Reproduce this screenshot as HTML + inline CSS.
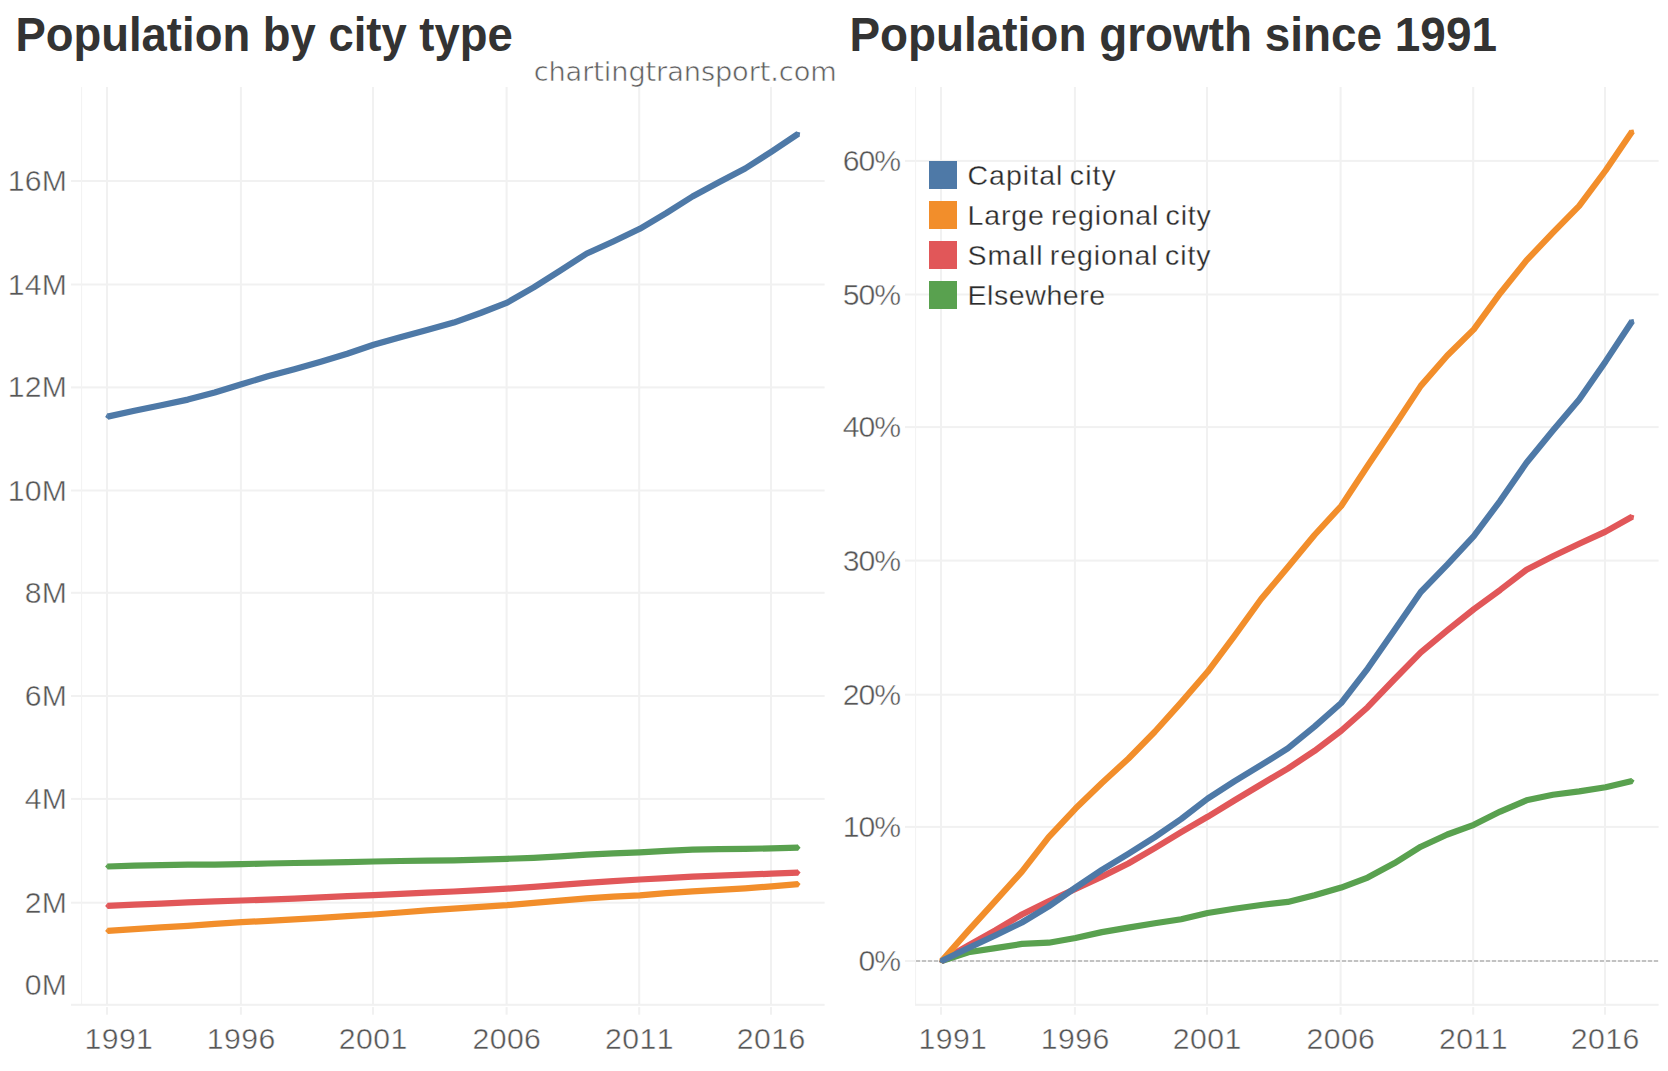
<!DOCTYPE html>
<html lang="en"><head><meta charset="utf-8"><title>Population by city type</title>
<style>
html,body{margin:0;padding:0;background:#fff;}
body{width:1668px;height:1071px;overflow:hidden;}
svg{display:block;}
text{font-family:"Liberation Sans",sans-serif;font-kerning:none;}
.t{font-weight:bold;font-size:47.8px;fill:#333333;}
.ax{font-size:30.2px;fill:#565656;stroke:#fff;stroke-width:0.45px;}
.yr{letter-spacing:0.45px;}
.ym{letter-spacing:0.3px;}
.pc{letter-spacing:-1.1px;}
.lg{font-size:28.5px;fill:#2b2b2b;stroke:#fff;stroke-width:0.3px;word-spacing:-2.5px;}
.src{font-family:"DejaVu Sans","Liberation Sans",sans-serif;font-size:27.2px;fill:#5e5e5e;letter-spacing:-0.1px;stroke:#fff;stroke-width:0.55px;}
</style></head><body>
<svg width="1668" height="1071" viewBox="0 0 1668 1071">
<rect width="1668" height="1071" fill="#ffffff"/>
<g>
<rect x="106.0" y="87" width="2" height="917.8" fill="#f1f1f1"/>
<rect x="106.0" y="1007.1" width="2" height="7.6" fill="#f1f1f1"/>
<rect x="239.9" y="87" width="2" height="917.8" fill="#f1f1f1"/>
<rect x="239.9" y="1007.1" width="2" height="7.6" fill="#f1f1f1"/>
<rect x="372.0" y="87" width="2" height="917.8" fill="#f1f1f1"/>
<rect x="372.0" y="1007.1" width="2" height="7.6" fill="#f1f1f1"/>
<rect x="505.6" y="87" width="2" height="917.8" fill="#f1f1f1"/>
<rect x="505.6" y="1007.1" width="2" height="7.6" fill="#f1f1f1"/>
<rect x="638.2" y="87" width="2" height="917.8" fill="#f1f1f1"/>
<rect x="638.2" y="1007.1" width="2" height="7.6" fill="#f1f1f1"/>
<rect x="770.0" y="87" width="2" height="917.8" fill="#f1f1f1"/>
<rect x="770.0" y="1007.1" width="2" height="7.6" fill="#f1f1f1"/>
<rect x="71.0" y="180.0" width="753.6" height="2" fill="#f1f1f1"/>
<rect x="71.0" y="283.5" width="753.6" height="2" fill="#f1f1f1"/>
<rect x="71.0" y="386.4" width="753.6" height="2" fill="#f1f1f1"/>
<rect x="71.0" y="489.5" width="753.6" height="2" fill="#f1f1f1"/>
<rect x="71.0" y="591.8" width="753.6" height="2" fill="#f1f1f1"/>
<rect x="71.0" y="695.0" width="753.6" height="2" fill="#f1f1f1"/>
<rect x="71.0" y="797.9" width="753.6" height="2" fill="#f1f1f1"/>
<rect x="71.0" y="901.7" width="753.6" height="2" fill="#f1f1f1"/>
<rect x="81.0" y="87" width="1.1" height="917.8" fill="#f3f3f3"/>
<rect x="71.0" y="1003.8" width="753.6" height="2" fill="#f1f1f1"/>
</g>
<g>
<rect x="940.0" y="87" width="2" height="917.8" fill="#f1f1f1"/>
<rect x="940.0" y="1007.1" width="2" height="7.6" fill="#f1f1f1"/>
<rect x="1073.9" y="87" width="2" height="917.8" fill="#f1f1f1"/>
<rect x="1073.9" y="1007.1" width="2" height="7.6" fill="#f1f1f1"/>
<rect x="1206.0" y="87" width="2" height="917.8" fill="#f1f1f1"/>
<rect x="1206.0" y="1007.1" width="2" height="7.6" fill="#f1f1f1"/>
<rect x="1339.6" y="87" width="2" height="917.8" fill="#f1f1f1"/>
<rect x="1339.6" y="1007.1" width="2" height="7.6" fill="#f1f1f1"/>
<rect x="1472.2" y="87" width="2" height="917.8" fill="#f1f1f1"/>
<rect x="1472.2" y="1007.1" width="2" height="7.6" fill="#f1f1f1"/>
<rect x="1604.0" y="87" width="2" height="917.8" fill="#f1f1f1"/>
<rect x="1604.0" y="1007.1" width="2" height="7.6" fill="#f1f1f1"/>
<rect x="905.0" y="159.9" width="753.6" height="2" fill="#f1f1f1"/>
<rect x="905.0" y="293.5" width="753.6" height="2" fill="#f1f1f1"/>
<rect x="905.0" y="426.1" width="753.6" height="2" fill="#f1f1f1"/>
<rect x="905.0" y="559.6" width="753.6" height="2" fill="#f1f1f1"/>
<rect x="905.0" y="693.7" width="753.6" height="2" fill="#f1f1f1"/>
<rect x="905.0" y="825.9" width="753.6" height="2" fill="#f1f1f1"/>
<rect x="905.0" y="960.0" width="753.6" height="2" fill="#f1f1f1"/>
<rect x="915.0" y="87" width="1.1" height="917.8" fill="#f3f3f3"/>
<rect x="915.0" y="1003.8" width="743.6" height="2" fill="#f1f1f1"/>
</g>
<line x1="916.0" y1="961.0" x2="1658.6" y2="961.0" stroke="#c2c2c2" stroke-width="2" stroke-dasharray="4,2"/>
<polygon points="107.79,863.40 105.10,866.60 108.00,869.60" fill="#59a14f"/><polygon points="797.88,850.82 800.60,847.65 797.72,844.62" fill="#59a14f"/><polyline points="107.6,866.5 134.4,865.6 161.2,865.2 187.9,864.7 214.7,864.6 241.5,864.1 267.9,863.5 294.3,863.0 320.8,862.6 347.2,862.1 373.6,861.5 400.3,861.0 427.0,860.7 453.8,860.3 480.5,859.6 507.2,858.8 533.7,857.8 560.2,856.3 586.8,854.6 613.3,853.3 639.8,852.3 666.2,850.9 692.5,849.7 718.9,849.2 745.2,848.8 771.6,848.4 798.1,847.7" fill="none" stroke="#59a14f" stroke-width="6.2" stroke-linejoin="round" stroke-linecap="butt"/>
<polygon points="107.77,902.79 105.10,906.00 108.03,908.98" fill="#e15759"/><polygon points="797.93,875.73 800.60,872.51 797.67,869.53" fill="#e15759"/><polyline points="107.6,905.9 134.4,904.7 161.2,903.6 187.9,902.4 214.7,901.4 241.5,900.5 267.9,899.6 294.3,898.6 320.8,897.4 347.2,896.2 373.6,895.1 400.3,893.9 427.0,892.7 453.8,891.5 480.5,890.2 507.2,888.6 533.7,886.9 560.2,884.8 586.8,882.8 613.3,881.1 639.8,879.5 666.2,878.1 692.5,876.6 718.9,875.6 745.2,874.6 771.6,873.7 798.1,872.6" fill="none" stroke="#e15759" stroke-width="6.2" stroke-linejoin="round" stroke-linecap="butt"/>
<polygon points="107.70,927.68 105.11,930.95 108.10,933.87" fill="#f28e2b"/><polygon points="798.06,887.26 800.59,883.94 797.55,881.08" fill="#f28e2b"/><polyline points="107.6,930.8 134.4,929.1 161.2,927.4 187.9,925.8 214.7,923.8 241.5,922.2 267.9,920.8 294.3,919.4 320.8,917.9 347.2,916.2 373.6,914.5 400.3,912.5 427.0,910.4 453.8,908.6 480.5,906.8 507.2,905.2 533.7,902.9 560.2,900.7 586.8,898.4 613.3,896.7 639.8,895.3 666.2,893.2 692.5,891.4 718.9,889.8 745.2,888.3 771.6,886.3 798.1,884.1" fill="none" stroke="#f28e2b" stroke-width="6.2" stroke-linejoin="round" stroke-linecap="butt"/>
<polygon points="107.24,413.49 105.16,417.11 108.54,419.55" fill="#4e79a7"/><polygon points="799.58,136.63 800.18,132.49 796.12,131.48" fill="#4e79a7"/><polyline points="107.6,416.6 134.4,410.8 161.2,405.3 187.9,399.6 214.7,392.5 241.5,384.2 267.9,376.3 294.3,369.3 320.8,361.8 347.2,353.8 373.6,344.8 400.3,337.2 427.0,330.1 453.8,322.6 480.5,313.0 507.2,302.6 533.7,287.4 560.2,270.6 586.8,253.5 613.3,241.5 639.8,228.8 666.2,213.2 692.5,196.5 718.9,182.2 745.2,168.5 771.6,151.6 798.1,133.9" fill="none" stroke="#4e79a7" stroke-width="6.2" stroke-linejoin="round" stroke-linecap="butt"/>
<polygon points="940.93,957.96 939.22,961.77 942.84,963.86" fill="#59a14f"/><polygon points="1632.51,784.09 1634.53,780.43 1631.10,778.05" fill="#59a14f"/><polyline points="941.6,961.0 968.4,952.3 995.2,948.1 1021.9,943.9 1048.7,942.7 1075.5,938.0 1101.9,932.1 1128.3,927.6 1154.8,923.2 1181.2,919.2 1207.6,913.0 1234.3,908.7 1261.0,905.0 1287.8,901.9 1314.5,895.2 1341.2,887.6 1367.7,877.6 1394.2,863.3 1420.8,846.7 1447.3,834.5 1473.8,824.8 1500.2,811.6 1526.5,800.3 1552.9,794.8 1579.2,791.4 1605.6,787.2 1632.1,781.0" fill="none" stroke="#59a14f" stroke-width="6.2" stroke-linejoin="round" stroke-linecap="butt"/>
<polygon points="940.31,958.17 939.44,962.25 943.41,963.53" fill="#e15759"/><polygon points="1633.35,519.65 1634.28,515.58 1630.33,514.24" fill="#e15759"/><polyline points="941.6,961.0 968.4,945.5 995.2,930.4 1021.9,914.5 1048.7,901.3 1075.5,888.9 1101.9,876.6 1128.3,863.5 1154.8,848.1 1181.2,832.1 1207.6,816.8 1234.3,800.5 1261.0,784.5 1287.8,768.6 1314.5,750.9 1341.2,730.8 1367.7,707.2 1394.2,679.5 1420.8,652.3 1447.3,630.3 1473.8,609.2 1500.2,589.9 1526.5,569.7 1552.9,556.3 1579.2,543.7 1605.6,531.6 1632.1,516.8" fill="none" stroke="#e15759" stroke-width="6.2" stroke-linejoin="round" stroke-linecap="butt"/>
<polygon points="939.47,958.73 939.95,962.88 944.12,962.82" fill="#f28e2b"/><polygon points="1634.49,133.59 1633.51,129.53 1629.37,130.10" fill="#f28e2b"/><polyline points="941.6,961.0 968.4,930.6 995.2,901.2 1021.9,871.6 1048.7,837.1 1075.5,808.6 1101.9,783.0 1128.3,758.7 1154.8,731.8 1181.2,702.4 1207.6,671.8 1234.3,636.1 1261.0,599.2 1287.8,567.2 1314.5,535.0 1341.2,506.0 1367.7,465.8 1394.2,426.3 1420.8,385.9 1447.3,355.5 1473.8,329.4 1500.2,293.2 1526.5,260.4 1552.9,232.7 1579.2,205.8 1605.6,170.5 1632.1,131.6" fill="none" stroke="#f28e2b" stroke-width="6.2" stroke-linejoin="round" stroke-linecap="butt"/>
<polygon points="940.52,958.08 939.35,962.09 943.22,963.66" fill="#4e79a7"/><polygon points="1634.52,323.16 1633.48,319.11 1629.35,319.74" fill="#4e79a7"/><polyline points="941.6,961.0 968.4,948.0 995.2,935.5 1021.9,922.5 1048.7,906.4 1075.5,887.6 1101.9,869.9 1128.3,853.9 1154.8,837.1 1181.2,819.0 1207.6,798.6 1234.3,781.4 1261.0,765.2 1287.8,748.4 1314.5,726.6 1341.2,703.0 1367.7,668.6 1394.2,630.6 1420.8,592.0 1447.3,564.7 1473.8,536.1 1500.2,500.8 1526.5,462.8 1552.9,430.5 1579.2,399.5 1605.6,361.4 1632.1,321.2" fill="none" stroke="#4e79a7" stroke-width="6.2" stroke-linejoin="round" stroke-linecap="butt"/>
<text class="t" transform="translate(15.4,50.9) scale(0.951,1)" id="t1">Population by city type</text>
<text class="t" transform="translate(849.4,50.9) scale(0.960,1)" id="t2">Population growth since 1991</text>
<text class="src" x="836.6" y="80.5" text-anchor="end">chartingtransport.com</text>
<text class="ax ym" x="67.3" y="191.0" text-anchor="end">16M</text>
<text class="ax ym" x="67.3" y="294.5" text-anchor="end">14M</text>
<text class="ax ym" x="67.3" y="397.4" text-anchor="end">12M</text>
<text class="ax ym" x="67.3" y="500.5" text-anchor="end">10M</text>
<text class="ax ym" x="67.3" y="602.8" text-anchor="end">8M</text>
<text class="ax ym" x="67.3" y="706.0" text-anchor="end">6M</text>
<text class="ax ym" x="67.3" y="808.9" text-anchor="end">4M</text>
<text class="ax ym" x="67.3" y="912.7" text-anchor="end">2M</text>
<text class="ax ym" x="67.3" y="995.0" text-anchor="end">0M</text>
<text class="ax pc" x="899.9" y="170.9" text-anchor="end">60%</text>
<text class="ax pc" x="899.9" y="304.5" text-anchor="end">50%</text>
<text class="ax pc" x="899.9" y="437.1" text-anchor="end">40%</text>
<text class="ax pc" x="899.9" y="570.6" text-anchor="end">30%</text>
<text class="ax pc" x="899.9" y="704.7" text-anchor="end">20%</text>
<text class="ax pc" x="899.9" y="836.9" text-anchor="end">10%</text>
<text class="ax pc" x="899.9" y="971.0" text-anchor="end">0%</text>
<text class="ax yr" x="118.9" y="1049.2" text-anchor="middle">1991</text>
<text class="ax yr" x="241.2" y="1049.2" text-anchor="middle">1996</text>
<text class="ax yr" x="373.3" y="1049.2" text-anchor="middle">2001</text>
<text class="ax yr" x="506.9" y="1049.2" text-anchor="middle">2006</text>
<text class="ax yr" x="639.5" y="1049.2" text-anchor="middle">2011</text>
<text class="ax yr" x="771.3" y="1049.2" text-anchor="middle">2016</text>
<text class="ax yr" x="952.9" y="1049.2" text-anchor="middle">1991</text>
<text class="ax yr" x="1075.2" y="1049.2" text-anchor="middle">1996</text>
<text class="ax yr" x="1207.3" y="1049.2" text-anchor="middle">2001</text>
<text class="ax yr" x="1340.9" y="1049.2" text-anchor="middle">2006</text>
<text class="ax yr" x="1473.5" y="1049.2" text-anchor="middle">2011</text>
<text class="ax yr" x="1605.3" y="1049.2" text-anchor="middle">2016</text>
<rect x="929" y="161" width="28" height="28" fill="#4e79a7"/>
<text class="lg" x="967.5" y="185.0" style="letter-spacing:1.03px">Capital city</text>
<rect x="929" y="201" width="28" height="28" fill="#f28e2b"/>
<text class="lg" x="967.5" y="225.0" style="letter-spacing:0.86px">Large regional city</text>
<rect x="929" y="241" width="28" height="28" fill="#e15759"/>
<text class="lg" x="967.5" y="265.0" style="letter-spacing:0.93px">Small regional city</text>
<rect x="929" y="281" width="28" height="28" fill="#59a14f"/>
<text class="lg" x="967.5" y="305.0" style="letter-spacing:0.58px">Elsewhere</text>
</svg>
</body></html>
